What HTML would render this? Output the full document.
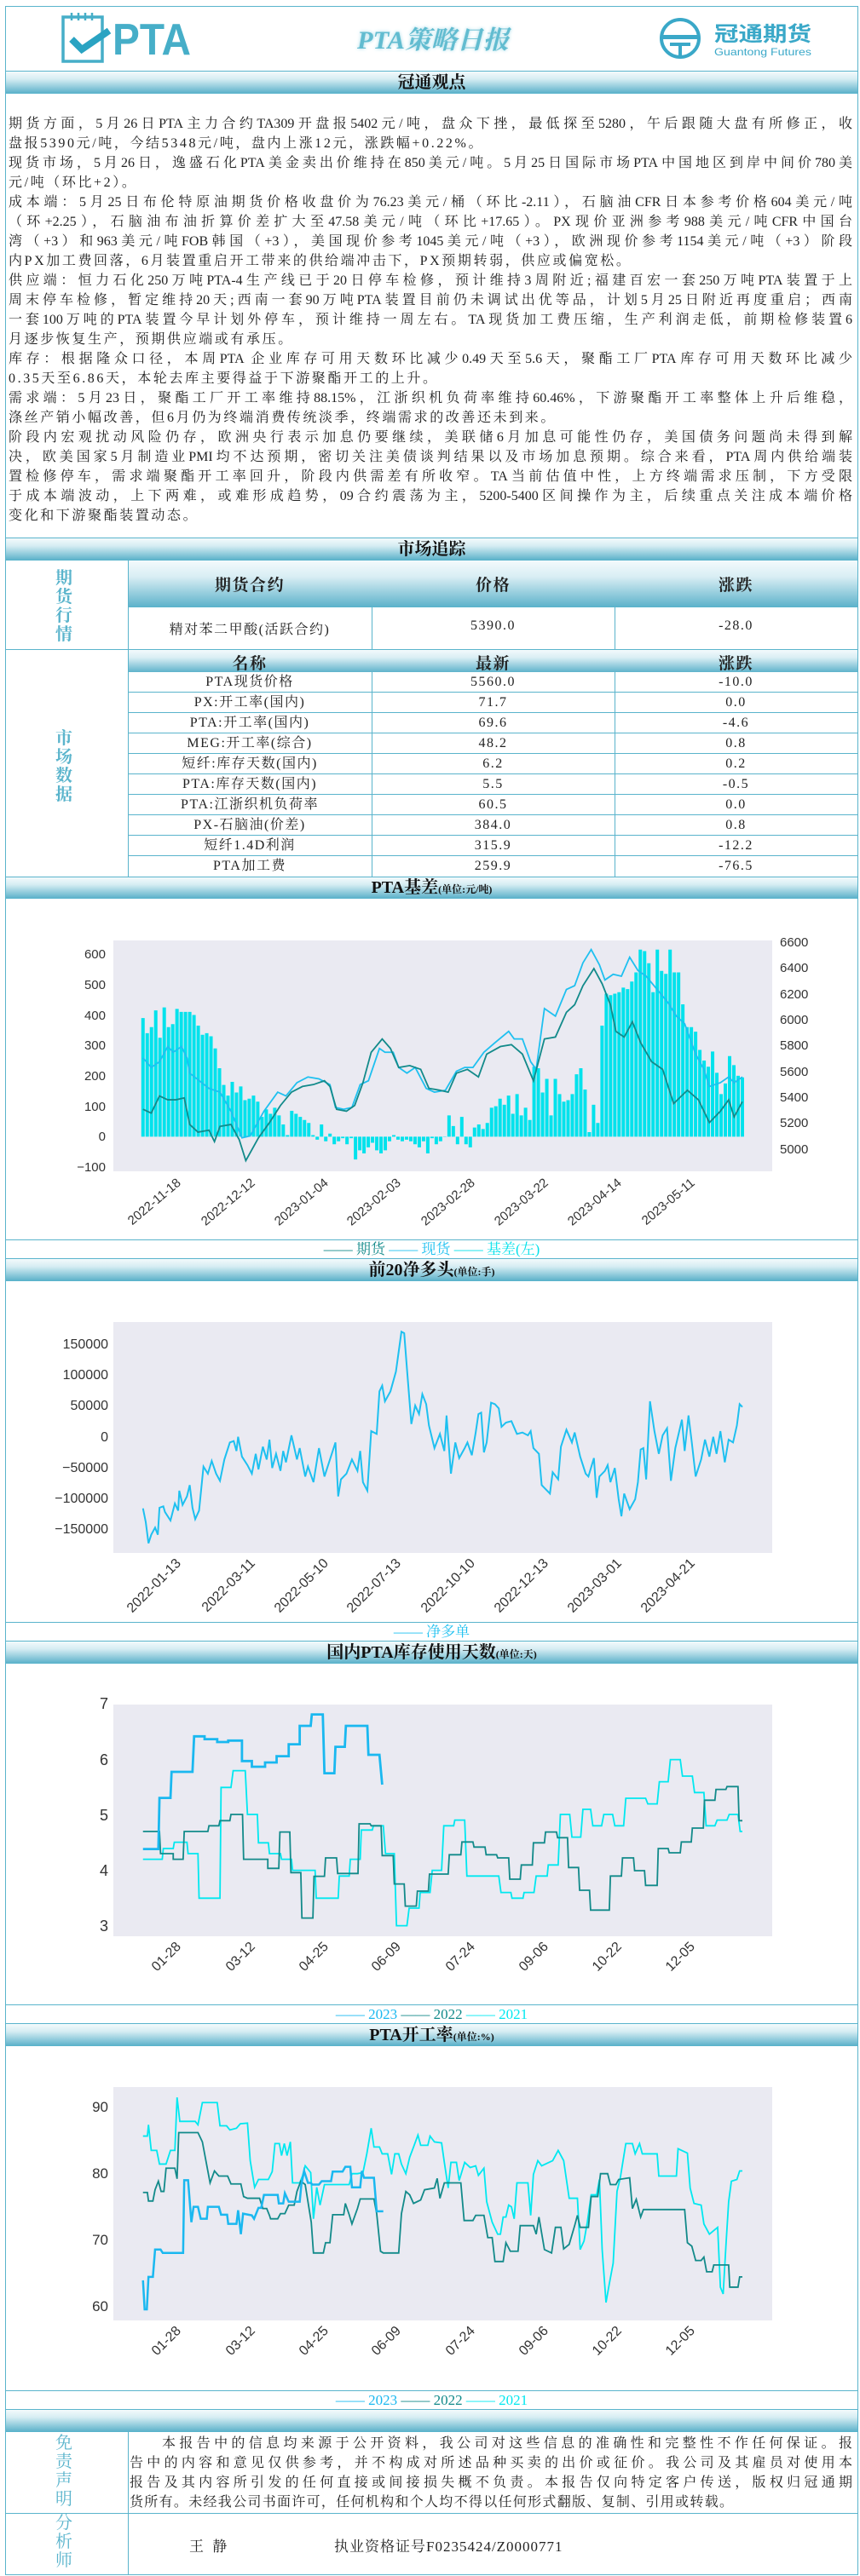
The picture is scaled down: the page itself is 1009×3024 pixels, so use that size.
<!DOCTYPE html>
<html><head><meta charset="utf-8">
<style>
*{margin:0;padding:0;box-sizing:border-box}
body{width:1009px;height:3024px;position:relative;background:#fff;overflow:hidden;font-family:"Liberation Serif","Noto Serif CJK SC",serif;color:#222}
.a{position:absolute}
.bar{position:absolute;left:7px;width:999px;background:linear-gradient(#f3fafc,#d6edf3 35%,#5fb3cb);border-top:1px solid #5ab4cc;border-bottom:1px solid #5ab4cc;text-align:center;font-weight:bold;color:#111;font-size:20px}
.bar small{font-size:12px;font-weight:bold}
.hl{position:absolute;left:7px;width:999px;height:1px;background:#5ab4cc}
.vl{position:absolute;width:1px;background:#5ab4cc}
.tx div{height:23px;line-height:23px;font-size:16px;letter-spacing:2.6px;white-space:nowrap}
.tx div.j{text-align:justify;text-align-last:justify;letter-spacing:0}
.cell{position:absolute;text-align:center;font-size:16px;letter-spacing:1.5px;white-space:nowrap}
.vt{position:absolute;width:150px;left:0;text-align:center;color:#5ab4cc;font-size:20px;line-height:22px;font-weight:bold}
.th{position:absolute;background:linear-gradient(#f3fafc,#d9eef4 35%,#5fb3cb);text-align:center;font-weight:bold;font-size:19px;color:#111}
.lg{position:absolute;left:7px;width:999px;text-align:center;font-size:17px}
</style></head><body>
<div class="a" style="left:6px;top:7px;width:1001px;height:3016px;border:1.5px solid #5ab4cc"></div>

<svg class="a" style="left:0;top:0" width="1009" height="83">
 <rect x="74" y="20" width="46" height="52" fill="none" stroke="#46aec8" stroke-width="3.5"/>
 <g stroke="#46aec8" stroke-width="2.5"><line x1="84" y1="15" x2="84" y2="24"/><line x1="92" y1="15" x2="92" y2="24"/><line x1="100" y1="15" x2="100" y2="24"/><line x1="108" y1="15" x2="108" y2="24"/></g>
 <polyline points="84,46 96,58 128,36" fill="none" stroke="#2aa3c2" stroke-width="8"/>
 <text x="132" y="64" font-family="Liberation Sans" font-weight="bold" font-size="52" fill="#46aec8" textLength="92" lengthAdjust="spacingAndGlyphs">PTA</text>
 <circle cx="798" cy="45" r="22" fill="none" stroke="#3aa8c8" stroke-width="4"/>
 <rect x="776" y="41" width="44" height="5" fill="#3aa8c8"/>
 <rect x="786" y="50" width="24" height="4" fill="#3aa8c8"/>
 <rect x="796" y="50" width="4" height="16" fill="#3aa8c8"/>
 <text x="838" y="48" font-family="Noto Sans CJK SC" font-weight="bold" font-size="24" fill="#3aa8c8" textLength="114" lengthAdjust="spacingAndGlyphs">冠通期货</text>
 <text x="838" y="65" font-family="Liberation Sans" font-size="12" fill="#3aa8c8" textLength="114" lengthAdjust="spacingAndGlyphs">Guantong Futures</text>
 <text x="508" y="57" text-anchor="middle" font-family="Liberation Serif,Noto Serif CJK SC" font-style="italic" font-weight="bold" font-size="30" fill="#62bcd0" style="text-shadow:0 0 4px #9fd8e6" textLength="178" lengthAdjust="spacingAndGlyphs">PTA策略日报</text>
</svg>

<div class="bar" style="top:83px;height:27px;line-height:26px">冠通观点</div>

<div class="a tx" style="left:10px;top:134px;width:990px">
<div class="j">期货方面，5月26日PTA主力合约TA309开盘报5402元/吨，盘众下挫，最低探至5280，午后跟随大盘有所修正，收</div>
<div>盘报5390元/吨，今结5348元/吨，盘内上涨12元，涨跌幅+0.22%。</div>
<div class="j">现货市场，5月26日，逸盛石化PTA美金卖出价维持在850美元/吨。5月25日国际市场PTA中国地区到岸中间价780美</div>
<div>元/吨（环比+2）。</div>
<div class="j">成本端：5月25日布伦特原油期货价格收盘价为76.23美元/桶（环比-2.11），石脑油CFR日本参考价格604美元/吨</div>
<div class="j">（环+2.25），石脑油布油折算价差扩大至47.58美元/吨（环比+17.65）。PX现价亚洲参考988美元/吨CFR中国台</div>
<div class="j">湾（+3）和963美元/吨FOB韩国（+3），美国现价参考1045美元/吨（+3），欧洲现价参考1154美元/吨（+3）阶段</div>
<div>内PX加工费回落，6月装置重启开工带来的供给端冲击下，PX预期转弱，供应或偏宽松。</div>
<div class="j">供应端：恒力石化250万吨PTA-4生产线已于20日停车检修，预计维持3周附近;福建百宏一套250万吨PTA装置于上</div>
<div class="j">周末停车检修，暂定维持20天;西南一套90万吨PTA装置目前仍未调试出优等品，计划5月25日附近再度重启；西南</div>
<div class="j">一套100万吨的PTA装置今早计划外停车，预计维持一周左右。TA现货加工费压缩，生产利润走低，前期检修装置6</div>
<div>月逐步恢复生产，预期供应端或有承压。</div>
<div class="j">库存：根据隆众口径，本周PTA 企业库存可用天数环比减少0.49天至5.6天，聚酯工厂PTA库存可用天数环比减少</div>
<div>0.35天至6.86天，本轮去库主要得益于下游聚酯开工的上升。</div>
<div class="j">需求端：5月23日，聚酯工厂开工率维持88.15%，江浙织机负荷率维持60.46%，下游聚酯开工率整体上升后维稳，</div>
<div>涤丝产销小幅改善，但6月仍为终端消费传统淡季，终端需求的改善还未到来。</div>
<div class="j">阶段内宏观扰动风险仍存，欧洲央行表示加息仍要继续，美联储6月加息可能性仍存，美国债务问题尚未得到解</div>
<div class="j">决，欧美国家5月制造业PMI均不达预期，密切关注美债谈判结果以及市场加息预期。综合来看，PTA周内供给端装</div>
<div class="j">置检修停车，需求端聚酯开工率回升，阶段内供需差有所收窄。TA当前估值中性，上方终端需求压制，下方受限</div>
<div class="j">于成本端波动，上下两难，或难形成趋势，09合约震荡为主，5200-5400区间操作为主，后续重点关注成本端价格</div>
<div>变化和下游聚酯装置动态。</div>
</div>

<div class="bar" style="top:631px;height:27px;line-height:26px">市场追踪</div>
<div class="th" style="left:150px;top:658px;width:856px;height:54px"></div>
<div class="cell" style="left:150px;top:672px;width:286px;font-weight:bold;font-size:19px">期货合约</div>
<div class="cell" style="left:436px;top:672px;width:285px;font-weight:bold;font-size:19px">价格</div>
<div class="cell" style="left:721px;top:672px;width:285px;font-weight:bold;font-size:19px">涨跌</div>
<div class="cell" style="left:150px;top:726px;width:286px">精对苯二甲酸(活跃合约)</div>
<div class="cell" style="left:436px;top:726px;width:285px">5390.0</div>
<div class="cell" style="left:721px;top:726px;width:285px">-28.0</div>
<div class="hl" style="top:712px;left:150px;width:856px"></div>
<div class="hl" style="top:762px"></div>
<div class="vl" style="left:150px;top:658px;height:371px"></div>
<div class="vl" style="left:436px;top:712px;height:317px"></div>
<div class="vl" style="left:721px;top:712px;height:317px"></div>
<div class="vt" style="top:668px">期<br>货<br>行<br>情</div>
<div class="th" style="left:151px;top:763px;width:855px;height:26px"></div>
<div class="cell" style="left:150px;top:764px;width:286px;font-weight:bold;font-size:19px">名称</div>
<div class="cell" style="left:436px;top:764px;width:285px;font-weight:bold;font-size:19px">最新</div>
<div class="cell" style="left:721px;top:764px;width:285px;font-weight:bold;font-size:19px">涨跌</div>
<div class="vt" style="top:856px">市<br>场<br>数<br>据</div>
<div style="position:absolute;left:0;top:789px;width:1009px;line-height:24px">
<div class="cell" style="left:150px;top:0;width:286px">PTA现货价格</div><div class="cell" style="left:436px;top:0;width:285px">5560.0</div><div class="cell" style="left:721px;top:0;width:285px">-10.0</div>
<div class="cell" style="left:150px;top:24px;width:286px">PX:开工率(国内)</div><div class="cell" style="left:436px;top:24px;width:285px">71.7</div><div class="cell" style="left:721px;top:24px;width:285px">0.0</div>
<div class="cell" style="left:150px;top:48px;width:286px">PTA:开工率(国内)</div><div class="cell" style="left:436px;top:48px;width:285px">69.6</div><div class="cell" style="left:721px;top:48px;width:285px">-4.6</div>
<div class="cell" style="left:150px;top:72px;width:286px">MEG:开工率(综合)</div><div class="cell" style="left:436px;top:72px;width:285px">48.2</div><div class="cell" style="left:721px;top:72px;width:285px">0.8</div>
<div class="cell" style="left:150px;top:96px;width:286px">短纤:库存天数(国内)</div><div class="cell" style="left:436px;top:96px;width:285px">6.2</div><div class="cell" style="left:721px;top:96px;width:285px">0.2</div>
<div class="cell" style="left:150px;top:120px;width:286px">PTA:库存天数(国内)</div><div class="cell" style="left:436px;top:120px;width:285px">5.5</div><div class="cell" style="left:721px;top:120px;width:285px">-0.5</div>
<div class="cell" style="left:150px;top:144px;width:286px">PTA:江浙织机负荷率</div><div class="cell" style="left:436px;top:144px;width:285px">60.5</div><div class="cell" style="left:721px;top:144px;width:285px">0.0</div>
<div class="cell" style="left:150px;top:168px;width:286px">PX-石脑油(价差)</div><div class="cell" style="left:436px;top:168px;width:285px">384.0</div><div class="cell" style="left:721px;top:168px;width:285px">0.8</div>
<div class="cell" style="left:150px;top:192px;width:286px">短纤1.4D利润</div><div class="cell" style="left:436px;top:192px;width:285px">315.9</div><div class="cell" style="left:721px;top:192px;width:285px">-12.2</div>
<div class="cell" style="left:150px;top:216px;width:286px">PTA加工费</div><div class="cell" style="left:436px;top:216px;width:285px">259.9</div><div class="cell" style="left:721px;top:216px;width:285px">-76.5</div>
</div>
<div class="hl" style="top:812px;left:150px;width:856px"></div>
<div class="hl" style="top:836px;left:150px;width:856px"></div>
<div class="hl" style="top:860px;left:150px;width:856px"></div>
<div class="hl" style="top:884px;left:150px;width:856px"></div>
<div class="hl" style="top:908px;left:150px;width:856px"></div>
<div class="hl" style="top:932px;left:150px;width:856px"></div>
<div class="hl" style="top:956px;left:150px;width:856px"></div>
<div class="hl" style="top:980px;left:150px;width:856px"></div>
<div class="hl" style="top:1004px;left:150px;width:856px"></div>

<div class="bar" style="top:1029px;height:26px;line-height:25px">PTA基差<small>(单位:元/吨)</small></div>
<div class="hl" style="top:1455px"></div>
<div class="lg" style="top:1456px;line-height:21px"><span style="color:#128a8a">—— 期货</span> <span style="color:#1ec0f0">—— 现货</span> <span style="color:#00e0ea">—— 基差(左)</span></div>
<div class="bar" style="top:1477px;height:27px;line-height:26px">前20净多头<small>(单位:手)</small></div>
<div class="hl" style="top:1904px"></div>
<div class="lg" style="top:1905px;line-height:21px;color:#1ec0f0">—— 净多单</div>
<div class="bar" style="top:1926px;height:27px;line-height:26px">国内PTA库存使用天数<small>(单位:天)</small></div>
<div class="hl" style="top:2353px"></div>
<div class="lg" style="top:2354px;line-height:21px"><span style="color:#1ab8f0">—— 2023</span> <span style="color:#128a8a">—— 2022</span> <span style="color:#00e8f0">—— 2021</span></div>
<div class="bar" style="top:2375px;height:27px;line-height:26px">PTA开工率<small>(单位:%)</small></div>
<div class="hl" style="top:2806px"></div>
<div class="lg" style="top:2807px;line-height:21px"><span style="color:#1ab8f0">—— 2023</span> <span style="color:#128a8a">—— 2022</span> <span style="color:#00e8f0">—— 2021</span></div>
<div class="bar" style="top:2828px;height:27px"></div>

<div class="vl" style="left:150px;top:2855px;height:167px"></div>
<div class="hl" style="top:2950px"></div>
<div class="vt" style="top:2857px;font-weight:normal">免<br>责<br>声<br>明</div>
<div class="vt" style="top:2951px;font-weight:normal">分<br>析<br>师</div>
<div class="a tx" style="left:152px;top:2857px;width:848px">
<div class="j" style="padding-left:38px">本报告中的信息均来源于公开资料，我公司对这些信息的准确性和完整性不作任何保证。报</div>
<div class="j">告中的内容和意见仅供参考，并不构成对所述品种买卖的出价或征价。我公司及其雇员对使用本</div>
<div class="j">报告及其内容所引发的任何直接或间接损失概不负责。本报告仅向特定客户传送，版权归冠通期</div>
<div style="letter-spacing:1.3px">货所有。未经我公司书面许可，任何机构和个人均不得以任何形式翻版、复制、引用或转载。</div>
</div>
<div class="a" style="left:222px;top:2975px;font-size:17px;letter-spacing:3px">王 静</div>
<div class="a" style="left:392px;top:2975px;font-size:17px;letter-spacing:1px">执业资格证号F0235424/Z0000771</div>

<svg class="a" style="left:0;top:0" width="1009" height="3024" font-family="Liberation Sans, DejaVu Sans, sans-serif" font-size="15" fill="#333">
<rect x="133" y="1104" width="773" height="271" fill="#eaeaf2"/>
<rect x="133" y="1552" width="773" height="271" fill="#eaeaf2"/>
<rect x="133" y="2001" width="773" height="272" fill="#eaeaf2"/>
<rect x="133" y="2450" width="773" height="274" fill="#eaeaf2"/>

<g transform="translate(0,800) scale(0.6452,0.4464)">
 <g transform="translate(260,1197) scale(7.73,-0.8)">
 <path vector-effect="non-scaling-stroke" stroke="#00e2ec" stroke-width="4" fill="none" d="M0 0V390M1 0V340M2 0V360M3 0V415M4 0V325M5 0V425M6 0V360M7 0V370M8 0V420M9 0V410M10 0V410M11 0V410M12 0V400M13 0V365M14 0V335M15 0V340M16 0V330M17 0V290M18 0V225M19 0V170M20 0V135M21 0V180M22 0V145M23 0V165M24 0V120M25 0V125M26 0V135M27 0V115M28 0V65M29 0V90M30 0V75M31 0V95M32 0V70M33 0V40M34 0V5M35 0V85M36 0V75M37 0V65M38 0V55M39 0V45M40 0V5M41 0V-10M42 0V40M43 0V-15M44 0V10M45 0V-25M46 0V-15M47 0V-5M48 0V-25M49 0V-5M50 0V-75M51 0V-45M52 0V-55M53 0V-35M54 0V-20M55 0V-45M56 0V-55M57 0V-45M58 0V-15M59 0V5M60 0V-10M61 0V-15M62 0V-10M63 0V-15M64 0V-25M65 0V-35M66 0V-15M67 0V-55M68 0V-5M69 0V-25M70 0V-15M71 0V1M72 0V70M73 0V35M74 0V-25M75 0V65M76 0V-25M77 0V-35M78 0V30M79 0V40M80 0V25M81 0V45M82 0V95M83 0V100M84 0V125M85 0V105M86 0V135M87 0V75M88 0V140M89 0V70M90 0V95M91 0V55M92 0V230M93 0V225M94 0V145M95 0V190M96 0V70M97 0V190M98 0V140M99 0V115M100 0V120M101 0V140M102 0V205M103 0V225M104 0V155M105 0V15M106 0V105M107 0V45M108 0V365M109 0V470M110 0V465M111 0V470M112 0V475M113 0V490M114 0V485M115 0V510M116 0V540M117 0V615M118 0V610M119 0V570M120 0V475M121 0V615M122 0V545M123 0V535M124 0V615M125 0V540M126 0V540M127 0V435M128 0V360M129 0V360M130 0V345M131 0V285M132 0V250M133 0V230M134 0V280M135 0V210M136 0V140M137 0V175M138 0V265M139 0V235M140 0V200M141 0V195"/>
 </g>
 <polyline vector-effect="non-scaling-stroke" fill="none" stroke="#1ec0f0" stroke-width="1.8" points="260,990 275,1015 290,1000 305,960 315,975 330,960 340,990 345,1030 380,1070 400,1080 420,1130 440,1200 455,1195 480,1130 505,1080 520,1090 540,1055 560,1040 580,1045 600,1060 610,1120 625,1125 640,1120 655,1060 670,1050 690,965 700,975 715,975 725,1015 740,1030 755,1015 775,1070 790,1080 810,1075 830,1025 845,1015 860,1015 880,975 900,950 925,920 935,940 950,940 965,1000 975,1020 990,860 1010,880 1030,810 1045,800 1060,740 1075,705 1090,745 1100,785 1115,770 1130,775 1145,725 1160,760 1175,775 1195,810 1215,845 1230,880 1245,900 1265,980 1280,1020 1290,1065 1310,1055 1325,1040 1335,1055 1350,1040"/>
 <polyline vector-effect="non-scaling-stroke" fill="none" stroke="#128a8a" stroke-width="1.8" points="260,1125 275,1135 290,1090 305,1100 320,1100 335,1095 345,1165 360,1185 380,1180 390,1210 400,1170 420,1165 435,1205 447,1260 470,1200 490,1160 510,1115 530,1080 550,1065 570,1060 590,1050 600,1065 612,1125 630,1130 645,1115 660,1055 675,975 695,940 710,965 725,1015 745,1010 765,1020 780,1070 800,1075 815,1080 830,1030 850,1020 870,1040 885,980 910,960 930,955 950,980 970,1050 990,940 1010,935 1030,870 1045,850 1060,800 1080,755 1095,795 1110,850 1120,920 1135,935 1150,895 1165,950 1185,1000 1205,1020 1225,1110 1250,1075 1270,1100 1290,1160 1310,1130 1325,1100 1335,1145 1350,1105"/>
</g>
<g text-anchor="end">
<text x="124" y="1125">600</text><text x="124" y="1161">500</text><text x="124" y="1197">400</text><text x="124" y="1232">300</text><text x="124" y="1268">200</text><text x="124" y="1304">100</text><text x="124" y="1339">0</text><text x="124" y="1375">−100</text>
</g>
<g>
<text x="915" y="1111">6600</text><text x="915" y="1141">6400</text><text x="915" y="1172">6200</text><text x="915" y="1202">6000</text><text x="915" y="1232">5800</text><text x="915" y="1263">5600</text><text x="915" y="1293">5400</text><text x="915" y="1323">5200</text><text x="915" y="1354">5000</text>
</g>
<g text-anchor="end">
<text transform="translate(213,1390) rotate(-40)">2022-11-18</text>
<text transform="translate(300,1390) rotate(-40)">2022-12-12</text>
<text transform="translate(386,1390) rotate(-40)">2023-01-04</text>
<text transform="translate(471,1390) rotate(-40)">2023-02-03</text>
<text transform="translate(558,1390) rotate(-40)">2023-02-28</text>
<text transform="translate(644,1390) rotate(-40)">2023-03-22</text>
<text transform="translate(730,1390) rotate(-40)">2023-04-14</text>
<text transform="translate(816,1390) rotate(-40)">2023-05-11</text>
</g>

<g transform="translate(0,1500) scale(0.6452,0.3333)">
<polyline vector-effect="non-scaling-stroke" fill="none" stroke="#1ec0f0" stroke-width="2" points="260,812 265,860 270,935 275,905 282,880 287,905 290,810 297,805 300,825 310,855 318,795 324,820 326,750 332,800 340,770 345,730 350,810 355,850 362,820 370,665 378,690 385,645 393,690 400,715 408,640 418,580 425,575 430,610 433,560 440,630 450,660 458,690 465,620 470,675 478,595 485,640 490,570 495,670 502,620 510,680 515,610 520,650 530,555 540,640 545,600 555,700 560,665 570,720 580,600 590,700 600,640 610,580 615,770 620,710 630,690 640,640 650,680 655,610 660,720 668,750 675,540 685,550 690,400 695,380 700,435 710,400 720,330 730,190 735,195 740,320 748,515 755,450 762,480 768,410 775,445 780,520 790,600 800,550 808,610 812,485 820,690 828,580 835,635 845,600 850,580 858,625 865,545 870,480 875,475 880,615 885,580 893,440 900,445 907,460 912,525 920,510 930,505 940,550 950,545 960,555 965,540 970,600 980,620 985,730 990,740 1000,760 1005,685 1015,710 1020,595 1030,535 1040,580 1045,545 1055,630 1065,690 1070,700 1080,635 1085,775 1090,700 1100,680 1105,660 1110,720 1118,670 1125,780 1130,840 1135,760 1145,815 1155,780 1160,720 1165,605 1170,600 1175,710 1182,435 1190,540 1198,620 1205,555 1213,530 1220,715 1228,600 1240,500 1245,610 1252,485 1258,580 1265,700 1275,640 1282,570 1290,630 1297,560 1303,620 1310,540 1318,650 1325,570 1333,580 1340,520 1345,445 1350,455"/>
</g>
<g text-anchor="end" font-size="16">
<text x="127" y="1583">150000</text><text x="127" y="1619">100000</text><text x="127" y="1655">50000</text><text x="127" y="1692">0</text><text x="127" y="1728">−50000</text><text x="127" y="1764">−100000</text><text x="127" y="1800">−150000</text>
</g>
<g text-anchor="end" font-size="16">
<text transform="translate(213,1836) rotate(-45)">2022-01-13</text>
<text transform="translate(300,1836) rotate(-45)">2022-03-11</text>
<text transform="translate(386,1836) rotate(-45)">2022-05-10</text>
<text transform="translate(471,1836) rotate(-45)">2022-07-13</text>
<text transform="translate(558,1836) rotate(-45)">2022-10-10</text>
<text transform="translate(644,1836) rotate(-45)">2022-12-13</text>
<text transform="translate(730,1836) rotate(-45)">2023-03-01</text>
<text transform="translate(816,1836) rotate(-45)">2023-04-21</text>
</g>

<g transform="translate(0,1900) scale(0.6452,0.3333)" fill="none">
<polyline vector-effect="non-scaling-stroke" stroke="#00e8f0" stroke-width="1.8" points="260,848 295,848 297,810 315,810 317,788 340,788 342,828 360,828 362,985 400,985 402,595 420,595 424,536 446,536 450,690 468,690 470,790 488,790 490,828 510,828 512,848 530,848 532,887 573,887 575,985 615,985 617,907 635,907 637,848 655,848 657,745 677,745 679,730 697,730 701,828 717,828 721,1082 740,1082 744,1020 762,1020 764,965 782,965 786,887 803,887 807,730 825,730 827,710 845,710 849,907 907,907 911,965 929,965 931,985 951,985 953,965 971,965 975,907 995,907 997,868 1015,868 1019,690 1036,690 1040,770 1056,770 1060,672 1074,672 1078,730 1094,730 1098,690 1114,690 1118,730 1134,730 1138,633 1174,633 1178,653 1195,653 1199,575 1215,575 1219,497 1237,497 1241,555 1259,555 1263,613 1280,613 1284,730 1300,730 1304,710 1322,710 1326,690 1342,690 1346,750 1350,750"/>
<polyline vector-effect="non-scaling-stroke" stroke="#128a8a" stroke-width="1.8" points="260,750 290,750 292,828 315,828 315,848 333,848 335,750 378,750 380,730 398,730 400,712 418,712 420,690 441,690 443,848 487,848 487,880 507,880 509,752 527,752 529,895 547,895 549,1055 569,1055 571,908 590,908 592,843 612,843 614,898 651,898 653,723 673,723 675,730 693,730 695,835 715,835 717,935 735,935 737,1013 757,1013 759,960 779,960 781,900 815,900 817,832 838,832 840,787 860,787 862,805 882,805 884,832 903,832 905,843 925,843 927,918 946,918 948,868 968,868 970,790 990,790 992,752 1012,752 1014,772 1032,772 1034,877 1052,877 1054,957 1072,957 1074,1027 1108,1027 1110,907 1130,907 1132,843 1152,843 1154,888 1172,888 1174,940 1195,940 1197,810 1215,810 1217,825 1237,825 1239,787 1257,787 1259,738 1279,738 1281,640 1300,640 1302,602 1320,602 1322,592 1342,592 1344,712 1350,712"/>
<polyline vector-effect="non-scaling-stroke" stroke="#1ab8f0" stroke-width="2.8" points="260,812 288,812 290,632 310,632 312,540 350,540 353,415 372,415 372,425 395,425 395,435 415,435 415,430 440,430 440,502 458,502 458,522 482,522 482,507 503,507 503,485 525,485 525,443 545,443 545,378 565,378 567,338 587,338 590,545 608,545 610,452 627,452 629,378 668,378 670,480 690,480 695,585"/>
</g>
<g text-anchor="end" font-size="18">
<text x="127" y="2006">7</text><text x="127" y="2072">6</text><text x="127" y="2137">5</text><text x="127" y="2202">4</text><text x="127" y="2267">3</text>
</g>
<g text-anchor="end" font-size="16">
<text transform="translate(213,2286) rotate(-45)">01-28</text>
<text transform="translate(300,2286) rotate(-45)">03-12</text>
<text transform="translate(386,2286) rotate(-45)">04-25</text>
<text transform="translate(471,2286) rotate(-45)">06-09</text>
<text transform="translate(558,2286) rotate(-45)">07-24</text>
<text transform="translate(644,2286) rotate(-45)">09-06</text>
<text transform="translate(730,2286) rotate(-45)">10-22</text>
<text transform="translate(816,2286) rotate(-45)">12-05</text>
</g>

<g transform="translate(0,2400) scale(0.6452,0.4013)" fill="none">
<polyline vector-effect="non-scaling-stroke" stroke="#00e8f0" stroke-width="1.8" points="260,268 268,268 270,235 275,310 285,310 290,350 302,350 310,310 318,310 322,155 327,225 355,225 360,235 368,170 395,170 400,238 412,238 418,250 430,245 437,232 450,230 455,340 463,418 470,395 488,395 495,372 500,290 508,290 512,325 517,290 522,325 528,285 532,405 545,405 550,385 555,355 565,375 570,510 576,418 582,470 590,410 635,410 640,378 650,378 660,375 667,320 675,245 680,300 690,300 695,320 705,320 712,380 718,320 725,320 730,350 738,378 745,330 752,300 760,265 765,295 778,295 782,268 790,285 803,288 808,345 815,420 820,345 830,345 835,398 845,345 855,360 865,355 870,383 880,362 885,460 895,520 905,555 910,555 915,505 920,505 925,470 930,475 935,510 940,405 960,405 965,500 970,380 978,340 985,355 1005,340 1015,310 1025,340 1035,450 1050,450 1055,600 1062,575 1068,520 1075,440 1085,440 1090,395 1095,600 1102,755 1108,700 1115,640 1122,430 1128,390 1138,290 1150,290 1155,320 1163,290 1168,320 1195,320 1198,385 1230,385 1233,305 1250,318 1255,420 1262,465 1275,470 1280,525 1290,555 1305,535 1310,710 1315,730 1320,590 1325,460 1330,400 1340,395 1345,370 1350,370"/>
<polyline vector-effect="non-scaling-stroke" stroke="#128a8a" stroke-width="1.8" points="260,433 268,433 270,458 278,458 282,425 288,400 293,430 298,430 302,362 318,362 322,393 325,258 360,258 368,285 382,405 390,370 398,385 414,385 420,408 438,408 443,445 450,450 472,450 478,480 485,480 490,500 492,510 505,510 510,495 518,495 525,470 535,470 540,430 547,400 555,410 566,520 570,610 588,610 592,580 600,580 605,498 625,498 628,465 635,498 640,525 650,480 655,452 680,452 685,495 692,605 697,610 725,610 730,495 738,430 745,440 752,465 765,455 772,425 790,420 795,392 800,450 808,405 838,405 844,515 860,515 865,500 880,500 887,565 895,565 900,635 915,635 920,580 928,605 942,605 946,530 970,530 975,555 980,505 990,600 1003,610 1010,535 1020,535 1025,598 1035,585 1045,530 1050,500 1055,535 1070,535 1075,445 1087,445 1092,378 1105,378 1110,410 1120,410 1125,395 1145,390 1150,480 1157,453 1165,505 1170,483 1245,483 1250,580 1258,590 1265,632 1275,632 1280,622 1285,665 1295,665 1298,645 1325,645 1327,710 1342,710 1345,680 1350,680"/>
<polyline vector-effect="non-scaling-stroke" stroke="#1ab8f0" stroke-width="2.5" points="260,690 263,775 267,775 270,680 278,680 282,600 292,600 296,610 333,610 335,397 342,397 348,520 352,475 360,475 365,510 376,510 378,475 398,475 402,498 413,498 415,525 430,525 433,485 438,555 442,495 458,500 462,510 470,478 475,478 480,440 505,440 507,465 515,465 518,435 525,460 545,460 548,410 553,370 560,405 565,405 568,410 580,410 585,400 602,400 605,372 623,372 628,358 637,358 640,418 655,418 658,370 662,390 680,390 685,488 697,488"/>
</g>
<g text-anchor="end" font-size="17">
<text x="127" y="2479">90</text><text x="127" y="2557">80</text><text x="127" y="2635">70</text><text x="127" y="2713">60</text>
</g>
<g text-anchor="end" font-size="16">
<text transform="translate(213,2737) rotate(-45)">01-28</text>
<text transform="translate(300,2737) rotate(-45)">03-12</text>
<text transform="translate(386,2737) rotate(-45)">04-25</text>
<text transform="translate(471,2737) rotate(-45)">06-09</text>
<text transform="translate(558,2737) rotate(-45)">07-24</text>
<text transform="translate(644,2737) rotate(-45)">09-06</text>
<text transform="translate(730,2737) rotate(-45)">10-22</text>
<text transform="translate(816,2737) rotate(-45)">12-05</text>
</g>
</svg>
</body></html>
